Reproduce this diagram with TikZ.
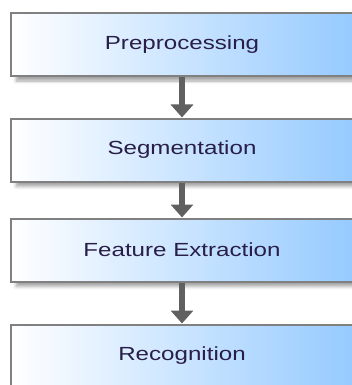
\documentclass[tikz,border=0pt]{standalone}
\usepackage{fontspec}
\setmainfont{Liberation Sans}
\usetikzlibrary{arrows.meta,shadows.blur}
\definecolor{stepblue}{RGB}{150,202,255}
\definecolor{steptext}{RGB}{40,30,72}
\definecolor{stepedge}{RGB}{128,128,128}
\definecolor{flowgray}{RGB}{96,96,96}
\tikzset{
  stepbox/.style={draw=stepedge, line width=2pt, rectangle,
    minimum width=342pt, minimum height=63pt, inner sep=0pt,
    left color=white, right color=stepblue, shading angle=90,
    blur shadow={shadow xshift=5pt, shadow yshift=-5pt,
      shadow blur radius=3pt, shadow opacity=35},
    text=steptext, font=\fontsize{19}{22}\selectfont},
  flow/.style={draw=flowgray, line width=6pt,
    -{Triangle[width=22pt,length=13pt]}, shorten >=0pt}
}
\newcommand{\steplabel}[1]{\scalebox{1.27}[1]{#1}}
\begin{document}
\begin{tikzpicture}[x=1pt,y=-1pt]
  \useasboundingbox (0,0) rectangle (351,385);
  \node[stepbox] (pre) at (182,44.5) {\steplabel{Preprocessing}};
  \node[stepbox] (seg) at (182,150) {\steplabel{Segmentation}};
  \node[stepbox] (fe)  at (182,250) {\steplabel{Feature Extraction}};
  \node[stepbox] (rec) at (182,356) {\steplabel{Recognition}};
  \draw[flow] (pre.south) -- (seg.north);
  \draw[flow] (seg.south) -- (fe.north);
  \draw[flow] (fe.south) -- (rec.north);
\end{tikzpicture}
\end{document}
